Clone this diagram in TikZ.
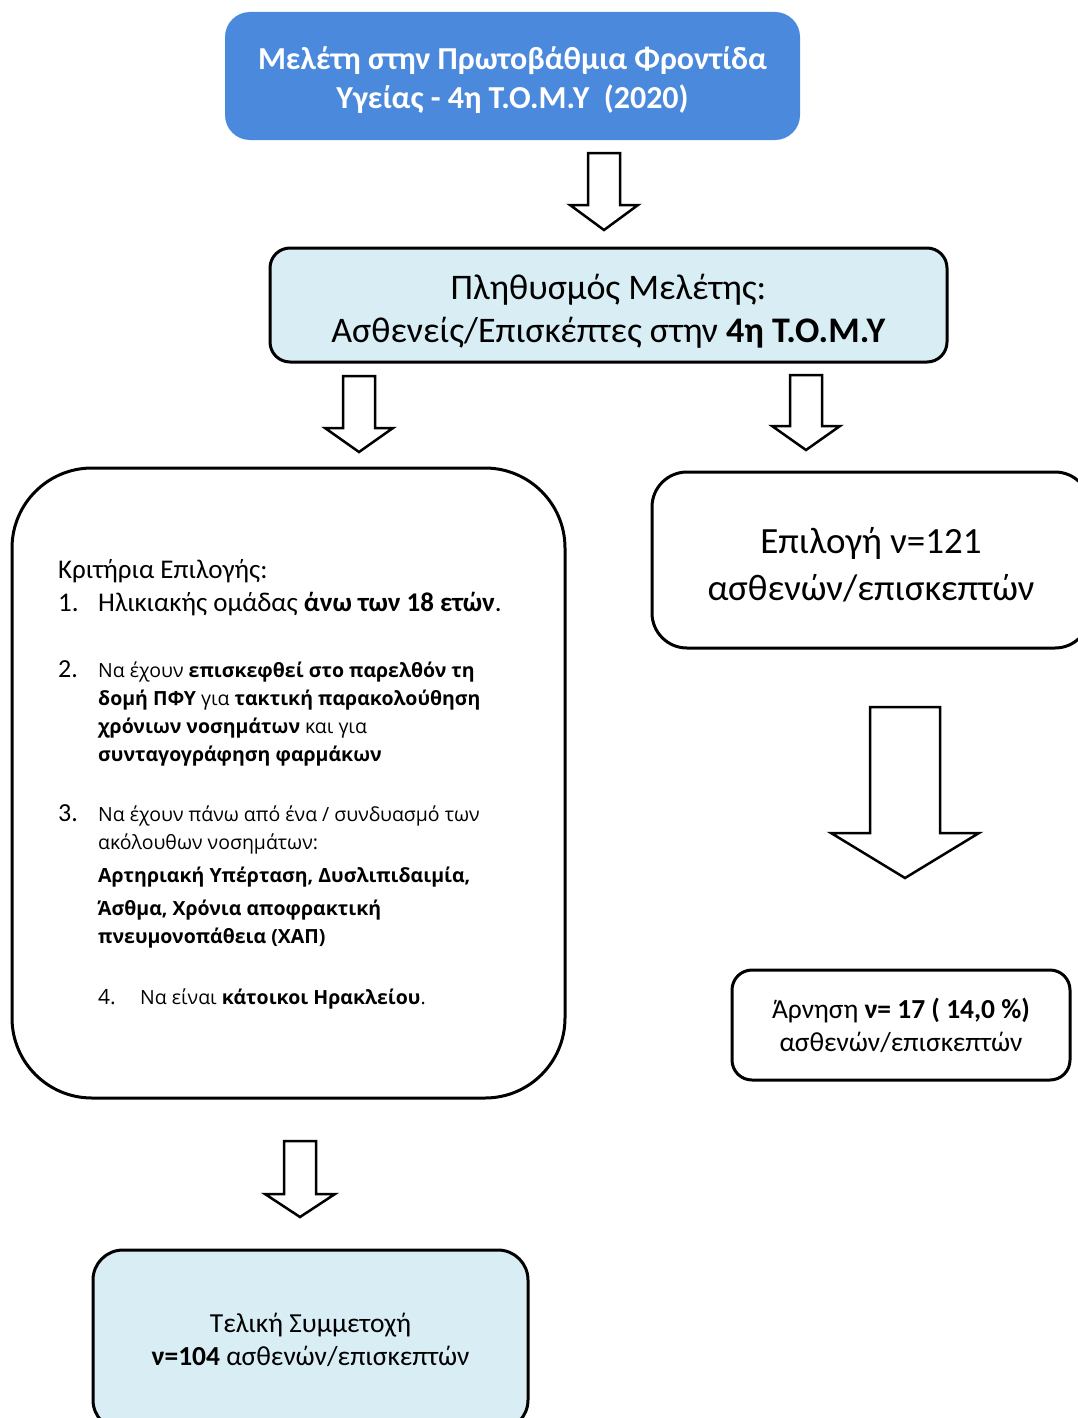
\documentclass[tikz,border=0pt]{standalone}
\usepackage{fontspec}
\setmainfont{Carlito}
\newfontfamily\critfont{Open Sans}
\usetikzlibrary{positioning}
\definecolor{studyblue}{RGB}{74,137,220}
\definecolor{popblue}{RGB}{216,237,244}

\tikzset{
  box/.style={draw=black, line width=3pt, rounded corners=20pt, align=center, inner sep=0pt},
  hollow/.style={draw=black, line width=2.5pt, fill=white, line join=miter},
  crittext/.style={anchor=base west, inner sep=0pt},
}

% hollow block arrow: x, top, tip, shaft half width, head half width, head length
\newcommand{\hollowarrow}[6]{%
  \draw[hollow] ({#1-#4},#2) -- ({#1+#4},#2) -- ({#1+#4},{#3-#6}) -- ({#1+#5},{#3-#6})
    -- (#1,#3) -- ({#1-#5},{#3-#6}) -- ({#1-#4},{#3-#6}) -- cycle;}

\begin{document}
\begin{tikzpicture}[x=1pt, y=-1pt]
\useasboundingbox (0,0) rectangle (1078,1418);
\clip (0,0) rectangle (1078,1418);

% Boxes
\node[box, draw=none, fill=studyblue, text=white, rounded corners=25pt, minimum width=575pt, minimum height=128pt,
  font=\fontsize{32}{39}\selectfont\bfseries] (study) at (512.5,76)
  {\rule{0pt}{32pt}Μελέτη στην Πρωτοβάθμια Φροντίδα\\Υγείας - 4η Τ.Ο.Μ.Υ\ \ (2020)};
\node[box, fill=popblue, minimum width=677pt, minimum height=114pt,
  font=\fontsize{36}{43}\selectfont] (population) at (608.5,305)
  {\rule{0pt}{38pt}Πληθυσμός Μελέτης:\\Ασθενείς/Επισκέπτες στην \textbf{4η Τ.Ο.Μ.Υ}};
\node[box, rounded corners=80pt, minimum width=553pt, minimum height=630pt] (criteria) at (288.5,783) {};
\node[box, rounded corners=35pt, minimum width=438pt, minimum height=176pt,
  font=\fontsize{37}{47}\selectfont] (selection) at (871,560)
  {\rule{0pt}{36pt}Επιλογή ν=121\\ασθενών/επισκεπτών};
\node[box, minimum width=338pt, minimum height=110pt,
  font=\fontsize{27.5}{33}\selectfont] (refusal) at (901,1025)
  {Άρνηση \textbf{ν= 17 ( 14,0 \%)}\\ασθενών/επισκεπτών};
\node[box, fill=popblue, rounded corners=30pt, minimum width=435pt, minimum height=180pt,
  font=\fontsize{27.5}{33}\selectfont] (final) at (310.5,1340)
  {Τελική Συμμετοχή\\\textbf{ν=104} ασθενών/επισκεπτών};

% Criteria
\node[crittext, font=\fontsize{27}{28}\selectfont] (crithead) at (58,578) {Κριτήρια Επιλογής:};
\node[crittext, font=\fontsize{27}{28}\selectfont] (num1) at (58,611) {1.};
\node[crittext, font=\fontsize{27}{28}\selectfont] (item1) at (98,611) {Ηλικιακής ομάδας \textbf{άνω των 18 ετών}.};
\node[crittext, font=\fontsize{26}{28}\selectfont] (num2) at (58,677) {2.};
\node[crittext, font=\critfont\fontsize{19.5}{28}\selectfont] (item2) at (98,677)
  {\vtop{\hbox{Να έχουν \textbf{επισκεφθεί στο παρελθόν τη}}
  \hbox{\textbf{δομή ΠΦΥ} για \textbf{τακτική παρακολούθηση}}
  \hbox{\textbf{χρόνιων νοσημάτων} και για}
  \hbox{\textbf{συνταγογράφηση φαρμάκων}}}};
\node[crittext, font=\fontsize{26}{28}\selectfont] (num3) at (58,821) {3.};
\node[crittext, font=\critfont\fontsize{19.5}{28}\selectfont] (item3) at (98,821)
  {\vtop{\hbox{Να έχουν πάνω από ένα / συνδυασμό των}
  \hbox{ακόλουθων νοσημάτων:}
  \vskip 5pt
  \hbox{\textbf{Αρτηριακή Υπέρταση, Δυσλιπιδαιμία,}}
  \vskip 5pt
  \hbox{\textbf{Άσθμα, Χρόνια αποφρακτική}}
  \hbox{\textbf{πνευμονοπάθεια (ΧΑΠ)}}}};
\node[crittext, font=\critfont\fontsize{21}{28}\selectfont] (num4) at (98,1004) {4.};
\node[crittext, font=\critfont\fontsize{19.5}{28}\selectfont] (item4) at (140,1004) {Να είναι \textbf{κάτοικοι Ηρακλείου}.};

% Arrows
\hollowarrow{604}{153}{230}{16}{34}{25}
\hollowarrow{359}{376}{452}{16}{34}{24}
\hollowarrow{806}{375}{450}{16}{34}{24}
\hollowarrow{905}{707}{878}{35}{74}{45}
\hollowarrow{300}{1141}{1217}{16}{35}{23}
\end{tikzpicture}
\end{document}
